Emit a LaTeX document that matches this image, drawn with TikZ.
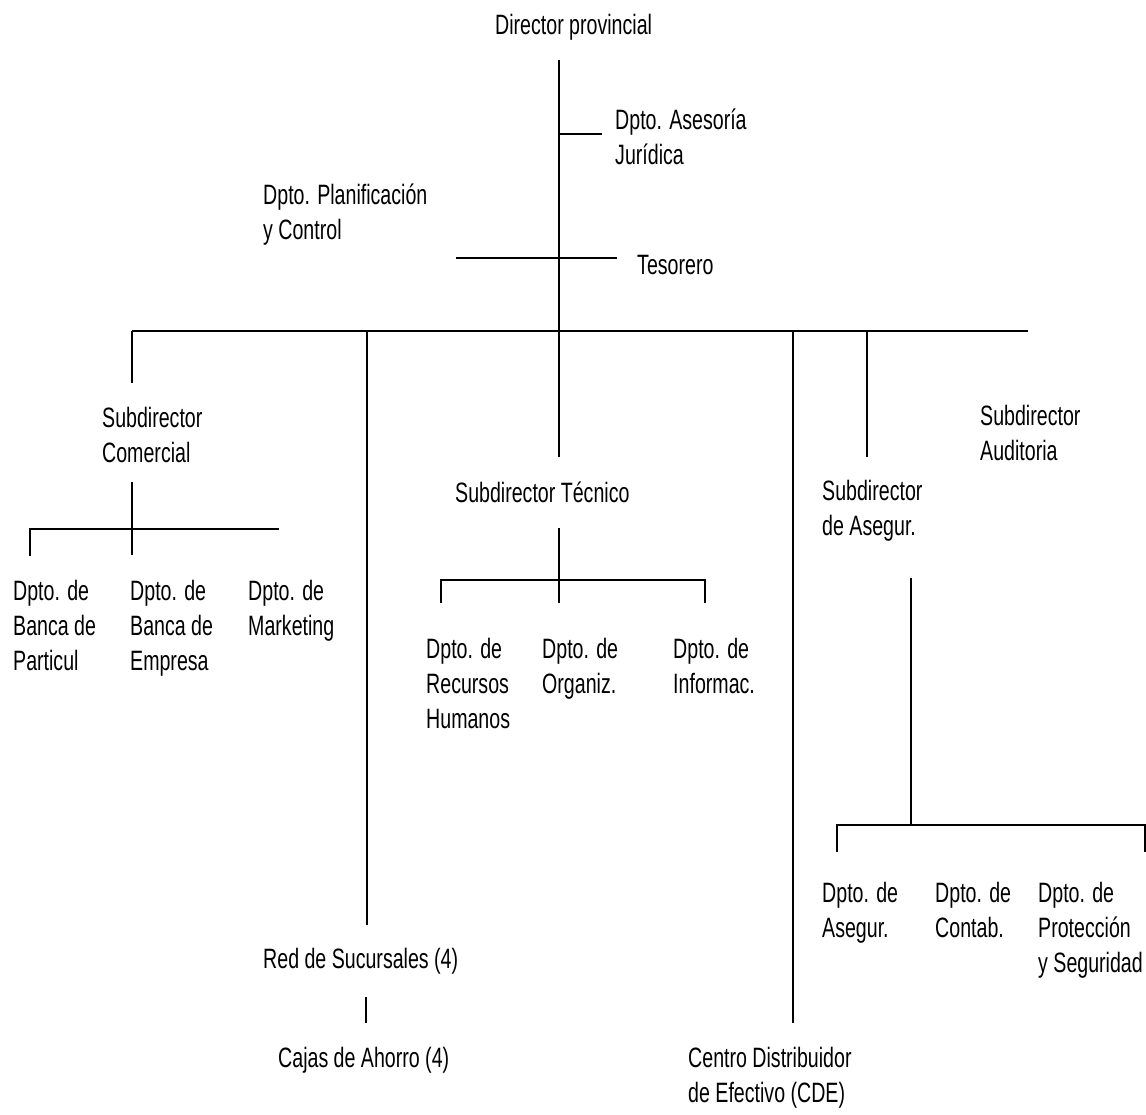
\documentclass[tikz,border=0pt]{standalone}
\usepackage{fontspec}
\setmainfont{Liberation Sans}[FakeStretch=0.7]
\begin{document}
\begin{tikzpicture}[x=1pt,y=-1pt,
  unit/.style={anchor=base west,align=left,inner sep=0pt,
    font=\fontsize{28}{35}\selectfont},
  link/.style={draw=black,line width=1.6pt,line cap=butt}]
\path[use as bounding box,fill=white] (0,0) rectangle (1146,1115);

% ---- text units (placed by the baseline of their last line) ----
\node[unit] (dir)   at (495,35)   {Director provincial};
\node[unit] (ases)  at (615,165)  {Dpto. Asesoría\\Jurídica};
\node[unit] (plan)  at (263,240)  {Dpto. Planificación\\y Control};
\node[unit] (tes)   at (637,275)  {Tesorero};

\node[unit] (com)   at (102,462)  {Subdirector\\Comercial};
\node[unit] (tec)   at (455,502)  {Subdirector Técnico};
\node[unit] (aseg)  at (822,535)  {Subdirector\\de Asegur.};
\node[unit] (aud)   at (980,460)  {Subdirector\\Auditoria};

\node[unit] (bpart) at (13,670)   {Dpto. de\\Banca de\\Particul};
\node[unit] (bemp)  at (130,670)  {Dpto. de\\Banca de\\Empresa};
\node[unit] (mkt)   at (248,635)  {Dpto. de\\Marketing};

\node[unit] (rrhh)  at (426,728)  {Dpto. de\\Recursos\\Humanos};
\node[unit] (org)   at (542,693)  {Dpto. de\\Organiz.};
\node[unit] (inf)   at (673,693)  {Dpto. de\\Informac.};

\node[unit] (dseg)  at (822,937)  {Dpto. de\\Asegur.};
\node[unit] (cont)  at (935,937)  {Dpto. de\\Contab.};
\node[unit] (prot)  at (1038,972) {Dpto. de\\Protección\\y Seguridad};

\node[unit] (red)   at (263,968)  {Red de Sucursales (4)};
\node[unit] (cajas) at (278,1067) {Cajas de Ahorro (4)};
\node[unit] (cde)   at (688,1102) {Centro Distribuidor\\de Efectivo (CDE)};

% ---- connector end points ----
\coordinate (dirS)   at (559,60);
\coordinate (asesJ)  at (559,134);
\coordinate (asesE)  at (602,134);
\coordinate (planE)  at (456,258);
\coordinate (tesE)   at (617,258);
\coordinate (busL)   at (132,331);
\coordinate (busR)   at (1028,331);
\coordinate (busRed) at (367,331);
\coordinate (busTec) at (559,331);
\coordinate (busCde) at (793,331);
\coordinate (busAsg) at (867,331);
\coordinate (comN)   at (132,383);
\coordinate (tecN)   at (559,457);
\coordinate (redN)   at (367,925);
\coordinate (cdeN)   at (793,1023);
\coordinate (asgN)   at (867,457);

\coordinate (comS)   at (132,482);
\coordinate (comB)   at (132,555);
\coordinate (comL)   at (30,529);
\coordinate (comLB)  at (30,556);
\coordinate (comR)   at (279,529);

\coordinate (tecS)   at (559,528);
\coordinate (tecB)   at (559,603);
\coordinate (tecL)   at (441,580);
\coordinate (tecLB)  at (441,603);
\coordinate (tecR)   at (705,580);
\coordinate (tecRB)  at (705,603);

\coordinate (asgS)   at (911,578);
\coordinate (asgJ)   at (911,825);
\coordinate (asgL)   at (837,825);
\coordinate (asgLB)  at (837,852);
\coordinate (asgR)   at (1145,825);
\coordinate (asgRB)  at (1145,852);

\coordinate (redS)   at (366,997);
\coordinate (cajasN) at (366,1023);

% ---- connectors ----
\draw[link] (dirS) -- (tecN);
\draw[link] (asesJ) -- (asesE);
\draw[link] (planE) -- (tesE);
\draw[link] (busL) -- (busR);
\draw[link] (busL) -- (comN);
\draw[link] (busRed) -- (redN);
\draw[link] (busCde) -- (cdeN);
\draw[link] (busAsg) -- (asgN);

\draw[link] (comS) -- (comB);
\draw[link] (comLB) -- (comL) -- (comR);

\draw[link] (tecS) -- (tecB);
\draw[link] (tecLB) -- (tecL) -- (tecR) -- (tecRB);

\draw[link] (asgS) -- (asgJ);
\draw[link] (asgLB) -- (asgL) -- (asgR) -- (asgRB);

\draw[link] (redS) -- (cajasN);
\end{tikzpicture}
\end{document}
